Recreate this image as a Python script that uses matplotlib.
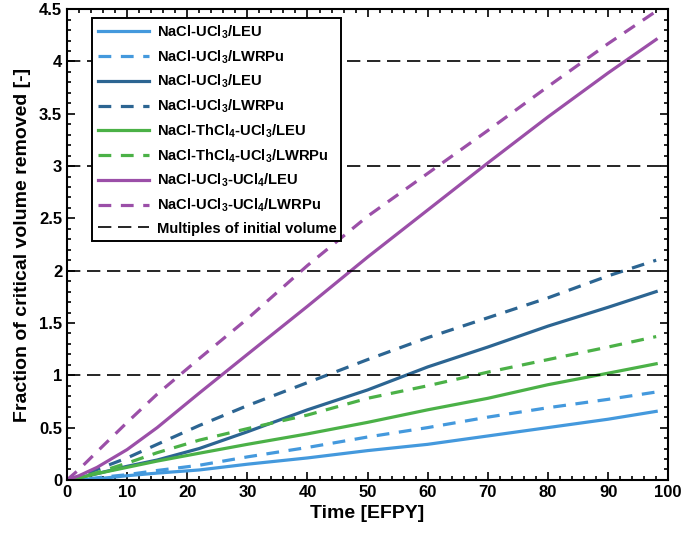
import matplotlib
matplotlib.use("Agg")
import matplotlib.pyplot as plt
from matplotlib.ticker import MultipleLocator

plt.rcParams["font.family"] = ["Liberation Sans", "DejaVu Sans"]
plt.rcParams["font.weight"] = "bold"
plt.rcParams["mathtext.fontset"] = "custom"
plt.rcParams["mathtext.rm"] = "Liberation Sans:bold"
plt.rcParams["mathtext.bf"] = "Liberation Sans:bold"
plt.rcParams["mathtext.default"] = "bf"

# Time grid [EFPY]
time_efpy = [0, 2, 5, 10, 15, 22, 30, 40, 50, 60, 70, 80, 90, 98]

# Fraction of critical volume removed for each salt / fuel combination
ucl3_leu_a    = [0, 0.0, 0.01, 0.04, 0.065, 0.095, 0.15, 0.21, 0.28, 0.34, 0.42, 0.50, 0.58, 0.655]
ucl3_lwrpu_a  = [0, 0.0, 0.02, 0.05, 0.09, 0.14, 0.22, 0.31, 0.41, 0.50, 0.60, 0.69, 0.77, 0.84]
ucl3_leu_b    = [0, 0.02, 0.06, 0.13, 0.19, 0.30, 0.46, 0.67, 0.86, 1.08, 1.27, 1.47, 1.65, 1.80]
ucl3_lwrpu_b  = [0, 0.03, 0.10, 0.21, 0.34, 0.52, 0.71, 0.93, 1.15, 1.36, 1.55, 1.74, 1.95, 2.10]
thcl4_leu     = [0, 0.02, 0.06, 0.12, 0.18, 0.255, 0.34, 0.44, 0.55, 0.67, 0.78, 0.91, 1.02, 1.11]
thcl4_lwrpu   = [0, 0.02, 0.07, 0.16, 0.26, 0.38, 0.49, 0.62, 0.78, 0.90, 1.03, 1.15, 1.27, 1.37]
ucl4_leu      = [0, 0.04, 0.12, 0.29, 0.50, 0.83, 1.20, 1.66, 2.13, 2.58, 3.03, 3.47, 3.89, 4.21]
ucl4_lwrpu    = [0, 0.10, 0.27, 0.55, 0.82, 1.16, 1.54, 2.05, 2.52, 2.93, 3.34, 3.76, 4.17, 4.48]

volume_multiples = [1, 2, 3, 4]

series = [
    (ucl3_leu_a,   "NaCl-UCl$_3$/LEU",               "#4499dd", "-"),
    (ucl3_lwrpu_a, "NaCl-UCl$_3$/LWRPu",             "#4499dd", "--"),
    (ucl3_leu_b,   "NaCl-UCl$_3$/LEU",               "#2c6592", "-"),
    (ucl3_lwrpu_b, "NaCl-UCl$_3$/LWRPu",             "#2c6592", "--"),
    (thcl4_leu,    "NaCl-ThCl$_4$-UCl$_3$/LEU",      "#4bb147", "-"),
    (thcl4_lwrpu,  "NaCl-ThCl$_4$-UCl$_3$/LWRPu",    "#4bb147", "--"),
    (ucl4_leu,     "NaCl-UCl$_3$-UCl$_4$/LEU",       "#9b4fa8", "-"),
    (ucl4_lwrpu,   "NaCl-UCl$_3$-UCl$_4$/LWRPu",     "#9b4fa8", "--"),
]

fig = plt.figure(figsize=(6.91, 5.38), dpi=100)
ax = fig.add_axes([0.097, 0.108, 0.870, 0.875])

for values, label, color, style in series:
    kw = dict(dashes=(4, 3)) if style == "--" else {}
    ax.plot(time_efpy, values, style, color=color, lw=2.3, label=label, **kw)

for i, m in enumerate(volume_multiples):
    ax.axhline(m, color="black", lw=1.2, dashes=(8, 4),
               label="Multiples of initial volume" if i == 0 else None)

ax.set_xlim(0, 100)
ax.set_ylim(0, 4.5)
ax.xaxis.set_major_locator(MultipleLocator(10))
ax.xaxis.set_minor_locator(MultipleLocator(2))
ax.yaxis.set_minor_locator(MultipleLocator(0.1))
ax.set_yticks([0, 0.5, 1, 1.5, 2, 2.5, 3, 3.5, 4, 4.5])
ax.set_yticklabels(["0", "0.5", "1", "1.5", "2", "2.5", "3", "3.5", "4", "4.5"])
ax.tick_params(which="both", direction="in", top=True, right=True, width=1.2,
               labelsize=12)
ax.tick_params(which="major", length=6)
ax.tick_params(which="minor", length=3)
for s in ax.spines.values():
    s.set_linewidth(1.5)

ax.set_xlabel("Time [EFPY]", fontsize=14, fontweight="bold", labelpad=4)
ax.set_ylabel("Fraction of critical volume removed [-]", fontsize=14,
              fontweight="bold", labelpad=6)

leg = ax.legend(loc="upper left", bbox_to_anchor=(0.035, 0.99), fontsize=10.6,
                frameon=True, fancybox=False, handlelength=3.5, labelspacing=0.5,
                borderpad=0.35, handletextpad=0.5, borderaxespad=0.3)
leg.get_frame().set_edgecolor("black")
leg.get_frame().set_linewidth(1.4)
leg.get_frame().set_alpha(1)

fig.savefig("out.png", dpi=100)
